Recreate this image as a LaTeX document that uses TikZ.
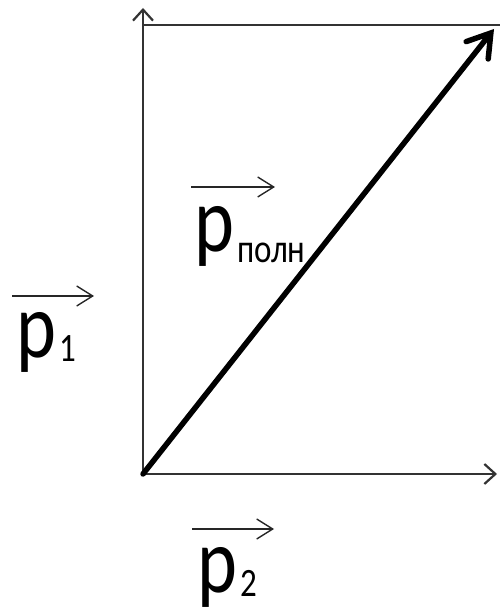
\documentclass[tikz,border=0pt]{standalone}
\usepackage{fontspec}
\setmainfont{Carlito}
\usetikzlibrary{arrows.meta}
\newcommand{\bigp}{\scalebox{1}[1.22]{\fontsize{76}{76}\selectfont p}}
\newcommand{\subt}[2]{\hspace{3pt}\raisebox{#1}{\scalebox{1}[1.22]{\fontsize{33}{33}\selectfont #2}}}
\begin{document}
\begin{tikzpicture}[x=1pt,y=1pt,
  axis/.style={line width=2.2pt,draw=black!80,-{Straight Barb[length=11pt,width=20pt]}},
  frame/.style={line width=2.2pt,draw=black!80},
  total/.style={line width=5.5pt,draw=black,line cap=round,-{Straight Barb[length=22pt,width=28pt,line cap=round]}},
  vecmark/.style={line width=1.4pt,draw=black!85,-{Straight Barb[length=16pt,width=20pt]}},
  lbl/.style={inner sep=0pt,anchor=base west,text=black}]
\useasboundingbox (0,0) rectangle (499,612);
\coordinate (O) at (143,138);
\coordinate (Ytip) at (143,604);
\coordinate (TL) at (143,587);
\coordinate (TR) at (500,587);
\coordinate (Xtip) at (497,138);
\coordinate (Dtip) at (494,583);
\draw[frame] (TL) -- (TR);
\draw[axis] (O) -- (Ytip);
\draw[axis] (O) -- (Xtip);
\draw[total] (O) -- (Dtip);
% labels
\node[lbl] (lp1) at (16,254) {\bigp\subt{-4pt}{1}};
\node[lbl] (lpp) at (194,360) {\bigp\subt{-11pt}{полн}};
\node[lbl] (lp2) at (197,19) {\bigp\subt{-4pt}{2}};
\coordinate (a1s) at (12,316); \coordinate (a1e) at (94,316);
\coordinate (aps) at (191,425); \coordinate (ape) at (275,425);
\coordinate (a2s) at (192,83); \coordinate (a2e) at (274,83);
\draw[vecmark] (a1s) -- (a1e);
\draw[vecmark] (aps) -- (ape);
\draw[vecmark] (a2s) -- (a2e);
\end{tikzpicture}
\end{document}
